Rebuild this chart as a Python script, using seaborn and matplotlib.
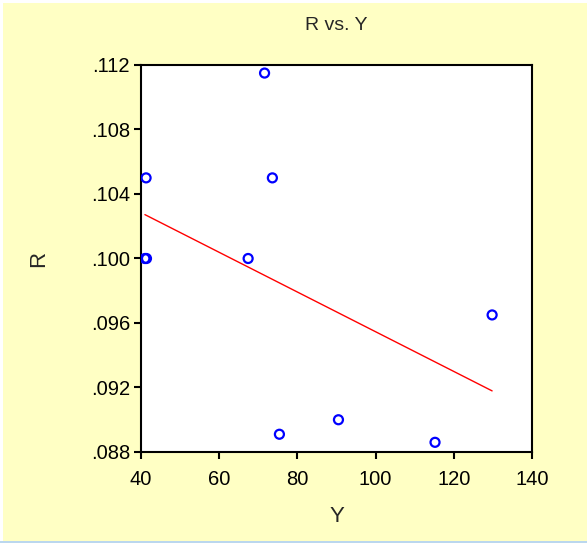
import matplotlib
matplotlib.use("Agg")
import matplotlib.pyplot as plt
from matplotlib.patches import Rectangle
import seaborn as sns
import pandas as pd

# Data
Y = [41.0, 41.4, 41.3, 67.4, 71.6, 73.6, 75.4, 90.5, 115.2, 129.8]
R = [0.1000, 0.1000, 0.1050, 0.1000, 0.1115, 0.1050, 0.0891, 0.0900, 0.0886, 0.0965]
x_ticks = [40, 60, 80, 100, 120, 140]
y_ticks = [0.088, 0.092, 0.096, 0.100, 0.104, 0.108, 0.112]
y_tick_labels = [".088", ".092", ".096", ".100", ".104", ".108", ".112"]

df = pd.DataFrame({"Y": Y, "R": R})

sns.set_style("white")
plt.rcParams['font.family'] = ['Liberation Sans', 'DejaVu Sans']

bg = "#FFFFC4"
W, H = 587, 543
fig = plt.figure(figsize=(W / 100, H / 100), dpi=100, facecolor=bg)

# thin frame edges like the reference window
fig.patches.append(Rectangle((0, 0), 3 / W, 1, transform=fig.transFigure,
                             facecolor="white", edgecolor="none", zorder=0))
fig.patches.append(Rectangle((0, 1 - 3 / H), 1, 3 / H, transform=fig.transFigure,
                             facecolor="white", edgecolor="none", zorder=0))
fig.patches.append(Rectangle((0, 0), 1, 2 / H, transform=fig.transFigure,
                             facecolor="#BBD7EE", edgecolor="none", zorder=0))

ax = fig.add_axes([0.2402, 0.1676, 0.6661, 0.7127])
ax.set_facecolor("white")

sns.scatterplot(data=df, x="Y", y="R", ax=ax, marker="o", s=42,
                facecolors="none", edgecolor="#0000FF", linewidth=1.6, zorder=3)
sns.regplot(data=df, x="Y", y="R", ax=ax, scatter=False, ci=None, truncate=True,
            line_kws={"color": "#FF0000", "linewidth": 1.0})

ax.set_xlim(40, 140)
ax.set_ylim(0.088, 0.112)
ax.set_xticks(x_ticks)
ax.set_xticklabels([str(t) for t in x_ticks])
ax.set_yticks(y_ticks)
ax.set_yticklabels(y_tick_labels)

for sp in ax.spines.values():
    sp.set_visible(True)
    sp.set_color("black")
    sp.set_linewidth(1.5)

ax.tick_params(axis="both", which="major", direction="out", length=5, width=1.5,
               colors="black", labelsize=14.5)
ax.tick_params(axis="x", bottom=True, top=False, pad=8)
ax.tick_params(axis="y", left=True, right=False, pad=3)

ax.set_xlabel("Y", fontsize=16, labelpad=12)
ax.set_ylabel("R", fontsize=16, labelpad=30)
ax.set_title("R vs. Y", fontsize=14, pad=25)

fig.savefig("out.png", dpi=100, facecolor=bg)
